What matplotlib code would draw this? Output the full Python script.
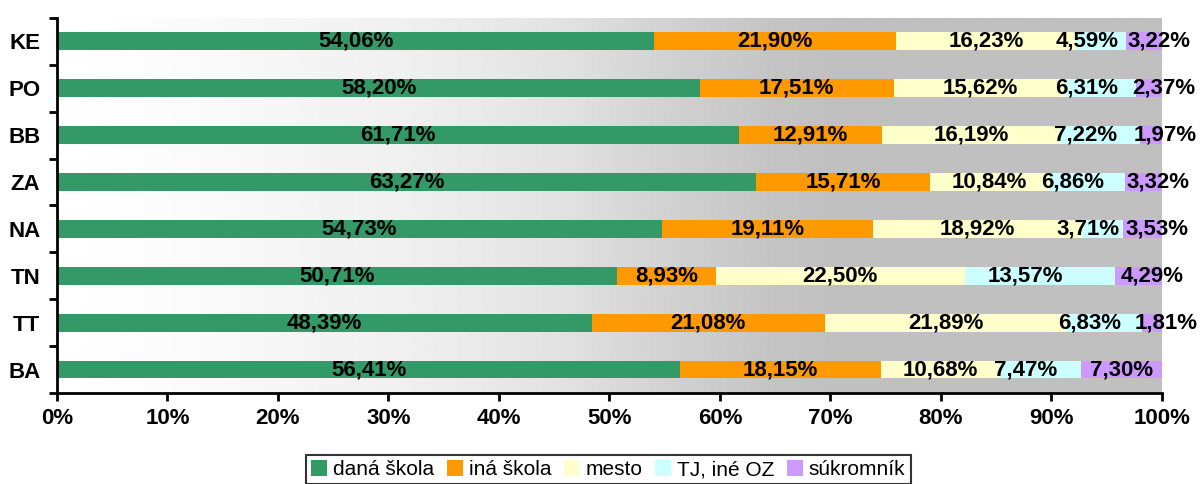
import numpy as np
import matplotlib.pyplot as plt
from matplotlib.patches import Patch

plt.rcParams['font.family'] = ['Liberation Sans', 'DejaVu Sans']

# regions, bottom to top as drawn
regions = ['BA', 'TT', 'TN', 'NA', 'ZA', 'BB', 'PO', 'KE']

# share of each provider (%), same order as regions
dana_skola = [56.41, 48.39, 50.71, 54.73, 63.27, 61.71, 58.20, 54.06]
ina_skola = [18.15, 21.08, 8.93, 19.11, 15.71, 12.91, 17.51, 21.90]
mesto = [10.68, 21.89, 22.50, 18.92, 10.84, 16.19, 15.62, 16.23]
tj_ine_oz = [7.47, 6.83, 13.57, 3.71, 6.86, 7.22, 6.31, 4.59]
sukromnik = [7.30, 1.81, 4.29, 3.53, 3.32, 1.97, 2.37, 3.22]

series_names = ['daná škola', 'iná škola', 'mesto', 'TJ, iné OZ', 'súkromník']
series_colors = ['#339966', '#FF9900', '#FFFFCC', '#CCFFFF', '#CC99FF']
series = [dana_skola, ina_skola, mesto, tj_ine_oz, sukromnik]

x_ticks = np.arange(0, 101, 10)
x_tick_labels = [f'{t}%' for t in x_ticks]

fig = plt.figure(figsize=(12, 4.84), dpi=100)
ax = fig.add_axes([0.0475, 0.188, 0.9208, 0.775])

# grey gradient behind the bars, white on the left
t = np.linspace(0, 1, 600)
grey = np.interp(t, [0, 0.13, 0.31, 0.45, 0.55, 0.65, 0.70, 1.0],
                 [255, 250, 240, 227, 210, 196, 192, 192]) / 255
grad = np.tile(grey, (2, 1))
ax.imshow(grad, cmap='gray', vmin=0, vmax=1, aspect='auto',
          extent=[0, 100, -0.5, len(regions) - 0.5], zorder=0,
          interpolation='bilinear')

# the two thin right-hand segments get their labels pulled apart
label_nudge = [0, 0, 0, -1.3, 1.3]

y = np.arange(len(regions))
left = np.zeros(len(regions))
for name, color, vals, nudge in zip(series_names, series_colors, series,
                                    label_nudge):
    vals = np.array(vals)
    ax.barh(y, vals, left=left, height=0.38, color=color, label=name, zorder=2)
    for yi, l, v in zip(y, left, vals):
        dx = nudge if v < 7 or nudge < 0 else 0
        ax.text(l + v / 2 + dx, yi, f'{v:.2f}%'.replace('.', ','),
                ha='center', va='center', fontsize=16, fontweight='bold',
                zorder=3)
    left += vals

ax.set_xlim(0, 100)
ax.set_ylim(-0.5, len(regions) - 0.5)

ax.set_xticks(x_ticks)
ax.set_xticklabels(x_tick_labels, fontsize=16, fontweight='bold')
ax.set_yticks(y)
ax.set_yticklabels(regions, fontsize=16, fontweight='bold')
ax.set_yticks(np.arange(-0.5, len(regions)), minor=True)
ax.tick_params(axis='y', which='major', length=0, pad=12)
ax.tick_params(axis='y', which='minor', length=6, width=2, direction='out')
ax.tick_params(axis='x', length=6, width=2, direction='out', pad=5)

for side in ['top', 'right']:
    ax.spines[side].set_visible(False)
for side in ['left', 'bottom']:
    ax.spines[side].set_linewidth(2)
    ax.spines[side].set_zorder(4)

handles = [Patch(facecolor=c, edgecolor='none', label=n)
           for n, c in zip(series_names, series_colors)]
leg = fig.legend(handles=handles, loc='upper center', ncol=5,
                 bbox_to_anchor=(0.507, 0.06), borderaxespad=0,
                 fontsize=15, frameon=True,
                 fancybox=False, handlelength=0.75, handleheight=0.75,
                 handletextpad=0.3, columnspacing=0.6, borderpad=0.25)
leg.get_frame().set_edgecolor('black')
leg.get_frame().set_linewidth(1.5)

fig.savefig('out.png', dpi=100)
